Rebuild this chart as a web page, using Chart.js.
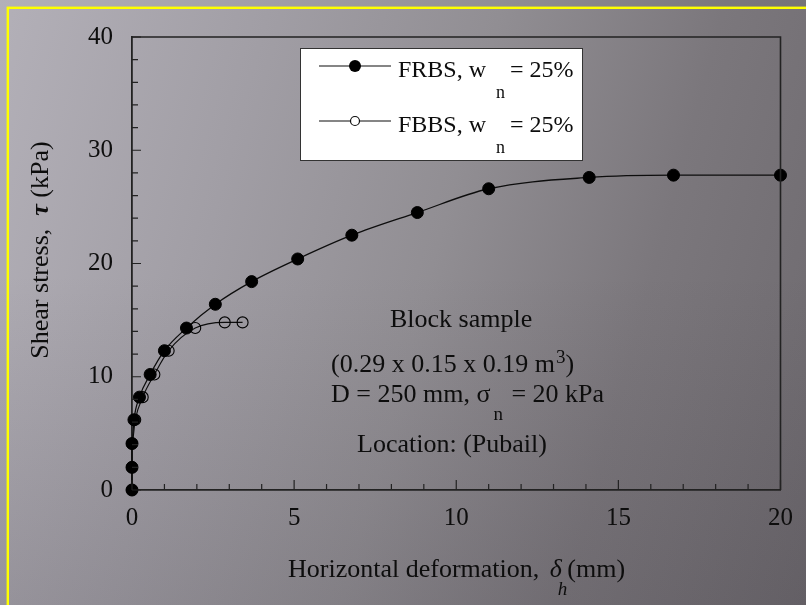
<!DOCTYPE html>
<html>
<head>
<meta charset="utf-8">
<script src="https://cdn.jsdelivr.net/npm/chart.js@4.4.0/dist/chart.umd.min.js"></script>
<style>
  html, body { margin: 0; padding: 0; width: 806px; height: 605px; overflow: hidden; }
  body {
    background:
      linear-gradient(to bottom, rgba(0,0,0,0) 45%, rgba(40,35,45,0.14) 100%),
      linear-gradient(105deg, #b3b0b8 0%, #a19ea5 28%, #918e93 52%, #7b777c 75%, #6d696e 100%);
  }
  canvas { display: block; }
</style>
</head>
<body>
<canvas id="c" width="806" height="605"></canvas>
<script>
// FRBS, wn = 25% (filled circles)
const frbsX = [0, 0, 0, 0.06, 0.23, 0.56, 1.0, 1.68, 2.57, 3.69, 5.11, 6.78, 8.8, 11.0, 14.1, 16.7, 20.0]
const frbsY = [0, 2.0, 4.1, 6.2, 8.2, 10.2, 12.3, 14.3, 16.4, 18.4, 20.4, 22.5, 24.5, 26.6, 27.6, 27.8, 27.8]
// FBBS, wn = 25% (open circles)
const fbbsX = [0, 0, 0, 0.1, 0.33, 0.69, 1.13, 1.95, 2.86, 3.41]
const fbbsY = [0, 2.0, 4.1, 6.2, 8.2, 10.2, 12.3, 14.3, 14.8, 14.8]

const xTicks = [0, 5, 10, 15, 20]
const yTicks = [0, 10, 20, 30, 40]

const serif = "'Liberation Serif', 'Times New Roman', serif"
const ink = "#0d0d0d"

const pts = (xs, ys) => xs.map((x, i) => ({ x: x, y: ys[i] }))

// draw a row of text pieces one after another; each piece may shift its baseline
function runs(ctx, x, y, parts) {
  let cx = x
  parts.forEach(p => {
    ctx.font = p.font
    cx += p.dx || 0
    ctx.fillText(p.t, cx, y + (p.dy || 0))
    cx += ctx.measureText(p.t).width
  })
  return cx
}

const decor = {
  id: "decor",
  afterDraw(chart) {
    const ctx = chart.ctx
    const a = chart.chartArea
    const xs = chart.scales.x
    const ys = chart.scales.y
    ctx.save()

    // box: top and right edges
    ctx.strokeStyle = "#222"
    ctx.lineWidth = 1.6
    ctx.beginPath()
    ctx.moveTo(a.left, a.top)
    ctx.lineTo(a.right, a.top)
    ctx.lineTo(a.right, a.bottom)
    ctx.stroke()

    // inward ticks
    ctx.lineWidth = 1.2
    ctx.beginPath()
    for (let v = 0; v <= 20; v++) {
      const px = xs.getPixelForValue(v)
      const len = v % 5 === 0 ? 10 : 6
      ctx.moveTo(px, a.bottom)
      ctx.lineTo(px, a.bottom - len)
    }
    for (let v = 0; v <= 40; v += 2) {
      const py = ys.getPixelForValue(v)
      const len = v % 10 === 0 ? 9 : 6
      ctx.moveTo(a.left, py)
      ctx.lineTo(a.left + len, py)
    }
    ctx.stroke()

    ctx.fillStyle = ink
    ctx.textAlign = "left"
    ctx.textBaseline = "alphabetic"

    // legend
    ctx.fillStyle = "#fff"
    ctx.fillRect(300.5, 48.5, 282, 112)
    ctx.strokeStyle = "#333"
    ctx.lineWidth = 1
    ctx.strokeRect(300.5, 48.5, 282, 112)
    ctx.strokeStyle = ink
    ctx.lineWidth = 1.2
    ;[66, 121].forEach(ly => {
      ctx.beginPath()
      ctx.moveTo(319, ly)
      ctx.lineTo(391, ly)
      ctx.stroke()
    })
    ctx.fillStyle = "#000"
    ctx.beginPath()
    ctx.arc(355, 66, 6, 0, Math.PI * 2)
    ctx.fill()
    ctx.fillStyle = "#fff"
    ctx.beginPath()
    ctx.arc(355, 121, 4.5, 0, Math.PI * 2)
    ctx.fill()
    ctx.stroke()

    ctx.fillStyle = ink
    const lf = "24px " + serif
    const sf = "18px " + serif
    ;[["FRBS, w", 77], ["FBBS, w", 132]].forEach(([t, by]) => {
      ctx.font = lf
      ctx.fillText(t, 398, by)
      ctx.font = sf
      ctx.fillText("n", 496, by + 21)
      ctx.font = lf
      ctx.fillText("= 25%", 510, by)
    })

    // annotation block
    const af = "26px " + serif
    const asub = "19px " + serif
    ctx.font = af
    ctx.fillText("Block sample", 390, 327)
    runs(ctx, 331, 371.5, [
      { t: "(0.29 x 0.15 x 0.19 m", font: af },
      { t: "3", font: asub, dy: -9, dx: 1 },
      { t: ")", font: af }
    ])
    runs(ctx, 331, 402, [
      { t: "D = 250 mm, \u03c3", font: af },
      { t: "n", font: asub, dy: 18, dx: 3 },
      { t: " = 20 kPa", font: af, dx: 2 }
    ])
    ctx.font = af
    ctx.fillText("Location: (Pubail)", 357, 452)

    // axis titles
    runs(ctx, 288, 577, [
      { t: "Horizontal deformation, ", font: af },
      { t: "\u03b4", font: "italic 26px " + serif, dx: 4 },
      { t: "h", font: "italic 19px " + serif, dy: 18, dx: -4 },
      { t: "(mm)", font: af }
    ])

    ctx.save()
    ctx.translate(48, 250)
    ctx.rotate(-Math.PI / 2)
    const yParts = [
      { t: "Shear stress,  ", font: af },
      { t: "\u03c4", font: "bold italic 26px " + serif },
      { t: " (kPa)", font: af }
    ]
    let tw = 0
    yParts.forEach(p => { ctx.font = p.font; tw += ctx.measureText(p.t).width })
    runs(ctx, -tw / 2, 0, yParts)
    ctx.restore()

    // yellow frame
    ctx.strokeStyle = "#ffff00"
    ctx.lineWidth = 2.4
    ctx.strokeRect(7.8, 7.8, 900, 700)

    ctx.restore()
  }
}

new Chart(document.getElementById("c"), {
  type: "scatter",
  data: {
    datasets: [
      {
        label: "FRBS, wn = 25%",
        data: pts(frbsX, frbsY),
        showLine: true,
        borderColor: ink,
        borderWidth: 1.3,
        pointRadius: 6,
        pointBackgroundColor: "#000",
        pointBorderColor: "#000",
        pointBorderWidth: 1,
        cubicInterpolationMode: "monotone",
        clip: false
      },
      {
        label: "FBBS, wn = 25%",
        data: pts(fbbsX, fbbsY),
        showLine: true,
        borderColor: ink,
        borderWidth: 1.1,
        pointRadius: 5.5,
        pointBackgroundColor: "rgba(0,0,0,0)",
        pointBorderColor: "#000",
        pointBorderWidth: 1.1,
        cubicInterpolationMode: "monotone",
        clip: false
      }
    ]
  },
  options: {
    responsive: false,
    animation: false,
    events: [],
    layout: { padding: { top: 37, right: 24, left: 0, bottom: 0 } },
    plugins: { legend: { display: false }, tooltip: { enabled: false } },
    scales: {
      x: {
        type: "linear",
        min: 0,
        max: 20,
        afterFit: s => { s.height = 115 },
        afterBuildTicks: s => { s.ticks = xTicks.map(v => ({ value: v })) },
        grid: { display: false, drawTicks: false },
        border: { display: true, color: "#222", width: 1.8 },
        ticks: { padding: 13, color: ink, font: { family: serif, size: 25 }, maxRotation: 0 }
      },
      y: {
        type: "linear",
        min: 0,
        max: 40,
        afterFit: s => { s.width = 132 },
        afterBuildTicks: s => { s.ticks = yTicks.map(v => ({ value: v })) },
        grid: { display: false, drawTicks: false },
        border: { display: true, color: "#222", width: 1.8 },
        ticks: { padding: 19, color: ink, font: { family: serif, size: 25 } }
      }
    }
  },
  plugins: [decor]
})
</script>
</body>
</html>
